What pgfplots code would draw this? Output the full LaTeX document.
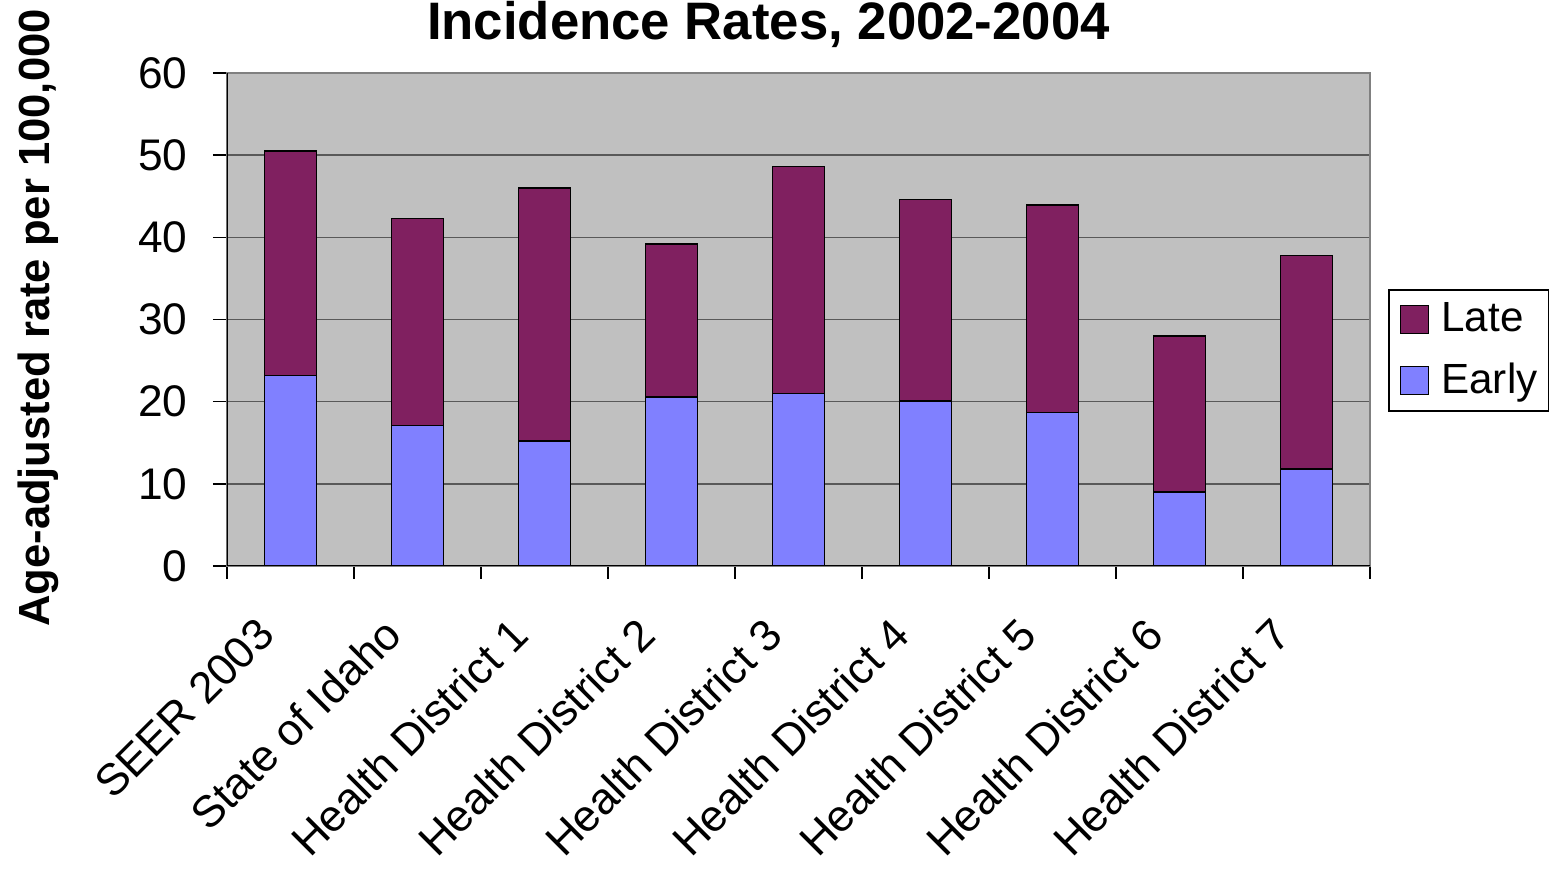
\documentclass[border=0pt]{standalone}
\usepackage{fontspec}
\setmainfont{Liberation Sans}
\usepackage{pgfplots}
\pgfplotsset{compat=1.18}
\definecolor{late}{RGB}{128,32,96}
\definecolor{early}{RGB}{128,128,255}
\definecolor{bg}{RGB}{192,192,192}
\begin{document}
\begin{tikzpicture}
\path[use as bounding box] (0,0) rectangle (155.2mm,87.2mm);
\begin{axis}[
  at={(22.7mm,30.6mm)}, anchor=south west,
  width=114.3mm, height=49.3mm, scale only axis,
  ybar stacked, bar width=5.2mm,
  xmin=-0.5, xmax=8.5, ymin=0, ymax=60,
  ytick={0,10,...,60},
  xtick={0,...,8},
  xticklabels={SEER 2003,State of Idaho,Health District 1,Health District 2,Health District 3,Health District 4,Health District 5,Health District 6,Health District 7},
  minor xtick={-0.5,0.5,...,8.5},
  major x tick style={draw=none},
  minor tick length=1.3mm,
  major tick length=1.4mm,
  tick align=outside, tick pos=left,
  tick style={black, line width=0.45pt},
  minor tick style={black, line width=0.45pt},
  ymajorgrids, grid style={black!65, line width=0.45pt},
  axis background/.style={fill=bg},
  axis line style={draw=black!50, line width=0.6pt},
  /pgf/number format/assume math mode=true,
  yticklabel style={font=\fontsize{12.6}{15}\selectfont, inner sep=0pt, xshift=-2.5mm, anchor=east},
  xticklabel style={font=\fontsize{12.6}{15}\selectfont, inner sep=0pt, xshift=-2.4mm, yshift=-4.6mm, rotate=45, anchor=east},
  legend style={at={(1.0157,0.562)}, anchor=north west, draw=black, line width=0.5pt,
    font=\fontsize{12}{14}\selectfont, inner xsep=1.1mm, inner ysep=0.55mm, row sep=1.2mm,
    column sep=1.2mm, nodes={inner xsep=0pt}},
  legend cell align=left,
  reverse legend,
]
\addplot[fill=early, draw=black, line width=0.45pt,
  legend image code/.code={\draw[fill=early,draw=black,line width=0.45pt] (0mm,-1.4mm) rectangle (2.8mm,1.4mm);}]
  coordinates {(0,23.2) (1,17.1) (2,15.2) (3,20.6) (4,21.0) (5,20.1) (6,18.7) (7,9.0) (8,11.8)};
\addplot[fill=late, draw=black, line width=0.45pt,
  legend image code/.code={\draw[fill=late,draw=black,line width=0.45pt] (0mm,-1.4mm) rectangle (2.8mm,1.4mm);}]
  coordinates {(0,27.3) (1,25.2) (2,30.8) (3,18.6) (4,27.6) (5,24.5) (6,25.2) (7,19.0) (8,26.0)};
\legend{Early,Late}
\draw[black, line width=0.6pt] (rel axis cs:0,1) -- (rel axis cs:0,0) -- (rel axis cs:1,0);
\end{axis}
\node[font=\bfseries\fontsize{15}{18}\selectfont, anchor=base] at (76.85mm,83.2mm) {Incidence Rates, 2002-2004};
\node[font=\bfseries\fontsize{12.4}{15}\selectfont, anchor=base, rotate=90] at (4.9mm,55.4mm) {Age-adjusted rate per 100,000};
\end{tikzpicture}
\end{document}
